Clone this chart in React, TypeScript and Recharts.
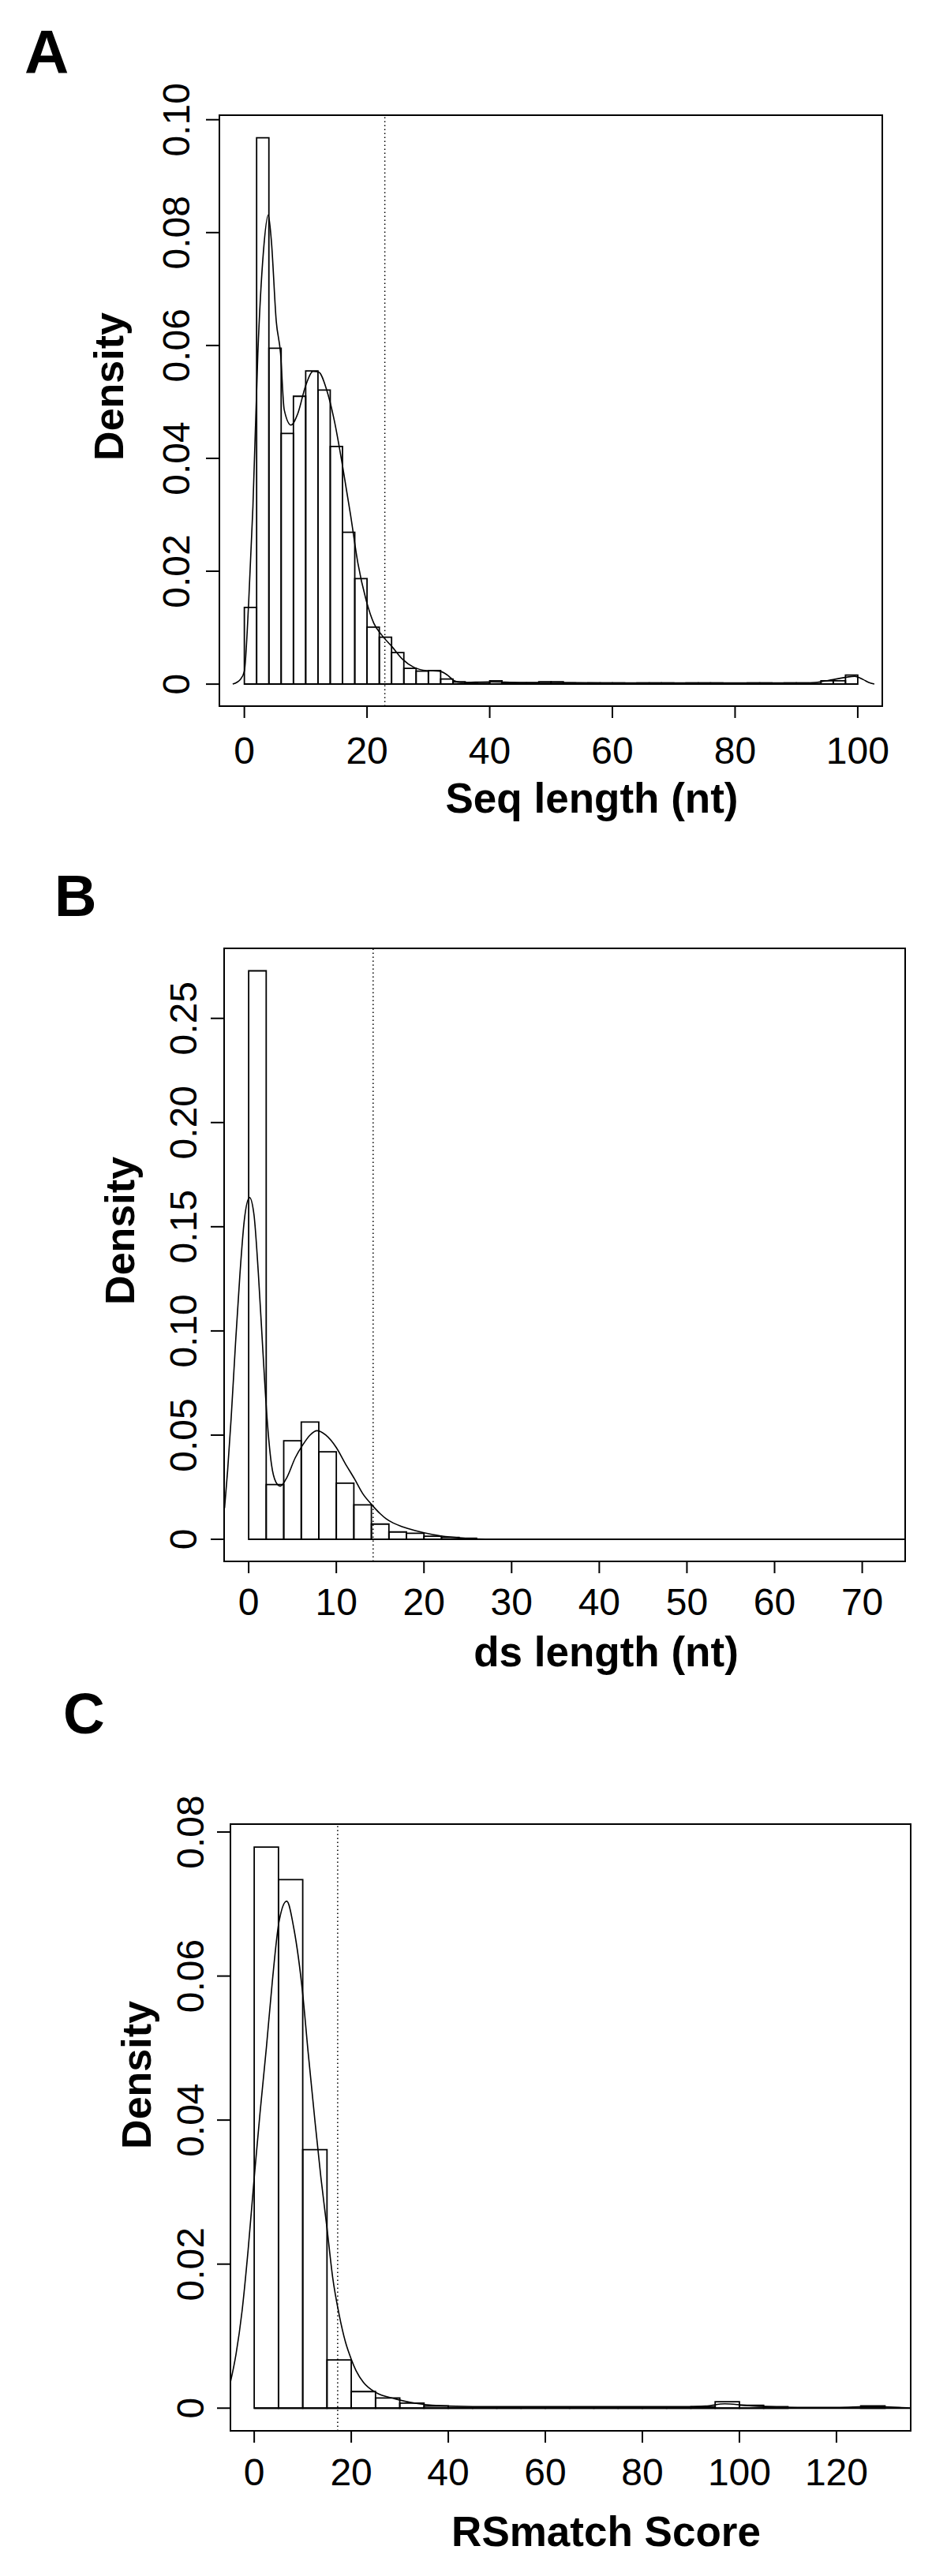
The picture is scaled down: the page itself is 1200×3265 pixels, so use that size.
import { ComposedChart, Line, XAxis, YAxis, ReferenceArea, ReferenceLine } from 'recharts'

const FONT = '"Liberation Sans", Arial, Helvetica, sans-serif'

// Panel A: sequence length histogram (bin width 2, 0..100)
const seqBinWidth = 2
const seqDensity = [
  0.0136, 0.0968, 0.0595, 0.0444, 0.0510, 0.0555, 0.0521, 0.0421, 0.0269, 0.0187,
  0.0101, 0.0083, 0.0056, 0.0028, 0.0023, 0.0024, 0.0009, 0.0004, 0.0002, 0.0003,
  0.0006, 0.0002, 0.0002, 0.0002, 0.0004, 0.0004, 0.0002, 0.0001, 0.0002, 0.0002,
  0.0002, 0.0001, 0.0002, 0.0002, 0.0002, 0.0001, 0.0002, 0.0002, 0.0002, 0.0001,
  0, 0.0002, 0.0002, 0, 0.0002, 0.0002, 0.0001, 0.0006, 0.0006, 0.0016,
]
const seqCurveX = [
  -1.9, -0.6, 0, 0.7, 1.4, 2.2, 3.1, 3.9, 4.4, 5.2, 5.9, 6.5, 7.6, 8.7, 10.0, 11.2, 12.1,
  13.4, 14.7, 16.0, 17.3, 18.5, 19.8, 21.1, 22.4, 24.1, 25.8, 27.6, 29.7, 31.8, 33.1, 34.2,
  35.3, 40, 45, 50, 60, 70, 80, 90, 93, 96, 99.5, 100.9, 101.8, 102.7,
]
const seqCurveY = [
  0, 0.0009, 0.0023, 0.0144, 0.0315, 0.0586, 0.0765, 0.0831, 0.0786, 0.0643, 0.0586, 0.0486,
  0.0459, 0.0479, 0.0529, 0.0554, 0.0553, 0.0522, 0.0465, 0.0387, 0.0301, 0.0215, 0.0151,
  0.0108, 0.0087, 0.0066, 0.0044, 0.0030, 0.0024, 0.0023, 0.0016, 0.0006, 0.0003, 0.0004,
  0.0003, 0.0003, 0.0002, 0.0002, 0.0002, 0.0002, 0.0003, 0.0008, 0.0014, 0.0008, 0.0003, 0,
]
const seqCutoff = 22.9
const seqXTicks = [0, 20, 40, 60, 80, 100]
const seqYTicks = [0, 0.02, 0.04, 0.06, 0.08, 0.1]

// Panel B: ds length histogram (bin width 2)
const dsBinWidth = 2
const dsDensity = [
  0.2728, 0.0263, 0.0473, 0.0563, 0.0420, 0.0269, 0.0165, 0.0073, 0.0035, 0.0029,
  0.0015, 0.0009, 0.0005,
]
const dsCurveX = [
  -2.75, -2.4, -2.0, -1.5, -1.0, -0.5, 0.1, 0.6, 1.1, 1.6, 2.1, 2.6, 3.1, 3.6, 4.4, 5.3,
  6.2, 7.0, 7.8, 8.8, 10.0, 11.0, 12.1, 13.0, 14.0, 15.0, 15.7, 16.5, 17.5, 19.0, 21.0,
  23.0, 25.0, 27.0, 30.0, 74.9,
]
const dsCurveY = [
  0.015, 0.033, 0.058, 0.094, 0.127, 0.153, 0.164, 0.156, 0.128, 0.092, 0.058, 0.036,
  0.0275, 0.0255, 0.030, 0.039, 0.0455, 0.050, 0.0521, 0.050, 0.044, 0.0365, 0.0288,
  0.022, 0.0168, 0.0123, 0.0098, 0.0078, 0.0061, 0.0042, 0.0023, 0.0011, 0.0004, 0.0001,
  0, 0,
]
const dsCutoff = 14.2
const dsXTicks = [0, 10, 20, 30, 40, 50, 60, 70]
const dsYTicks = [0, 0.05, 0.1, 0.15, 0.2, 0.25]

// Panel C: RSmatch score histogram (bin width 5)
const rsBinWidth = 5
const rsDensity = [
  0.0779, 0.0734, 0.0359, 0.0067, 0.0023, 0.0014, 0.0007, 0.0003, 0.0001, 0.0001,
  0.0001, 0.0001, 0.0001, 0.0001, 0.0001, 0.0001, 0.0001, 0.0001, 0.0002, 0.0009,
  0.0004, 0.0002, 0, 0, 0, 0.0003,
]
const rsCurveX = [
  -4.9, -3.75, -2.5, -1.25, 0, 1.2, 2.5, 3.7, 5.1, 6.7, 8.2, 10.0, 11.1, 12.5, 13.75,
  15.0, 16.2, 17.5, 18.8, 20, 21, 22.5, 25, 29, 34, 40, 50, 70, 88, 93, 97, 101, 106,
  112, 120, 127, 133, 135.3,
]
const rsCurveY = [
  0.0036, 0.0075, 0.0135, 0.022, 0.032, 0.041, 0.050, 0.059, 0.0675, 0.0704, 0.0665,
  0.0575, 0.0495, 0.040, 0.032, 0.025, 0.018, 0.013, 0.0092, 0.0068, 0.0052, 0.0036,
  0.0022, 0.0013, 0.0006, 0.0003, 0.0002, 0.0002, 0.0002, 0.0003, 0.0006, 0.0004,
  0.0002, 0.0001, 0.0001, 0.0002, 0.0001, 0,
]
const rsCutoff = 17.2
const rsXTicks = [0, 20, 40, 60, 80, 100, 120]
const rsYTicks = [0, 0.02, 0.04, 0.06, 0.08]

const fmtY = (v: number) => (v === 0 ? '0' : v.toFixed(2))

const YTick = ({ x, y, payload }: any) => (
  <text x={x} y={y} transform={`rotate(-90 ${x} ${y})`} textAnchor="middle" fontSize={48} fontFamily={FONT} fill="#000">
    {fmtY(payload.value)}
  </text>
)

const XTick = ({ x, y, payload }: any) => (
  <text x={x} y={y} textAnchor="middle" fontSize={48} fontFamily={FONT} fill="#000">
    {payload.value}
  </text>
)

interface PanelProps {
  top: number
  height: number
  margin: { top: number; right: number; bottom: number; left: number }
  xDomain: [number, number]
  yDomain: [number, number]
  xTicks: number[]
  yTicks: number[]
  binWidth: number
  density: number[]
  curveX: number[]
  curveY: number[]
  cutoff: number
  baselineEnd: number
  yTickMargin: number
  xTickMargin: number
}

function HistPanel(p: PanelProps) {
  const curve = p.curveX.map((x, i) => ({ x, y: p.curveY[i] }))
  const box = { stroke: '#000', strokeWidth: 2, fill: 'none' }
  return (
    <div style={{ position: 'absolute', left: 0, top: p.top }}>
      <ComposedChart width={1200} height={p.height} data={curve} margin={p.margin}>
        <XAxis
          type="number"
          dataKey="x"
          domain={p.xDomain}
          allowDataOverflow
          ticks={p.xTicks}
          interval={0}
          axisLine={false}
          tickLine={{ stroke: '#000', strokeWidth: 2 }}
          tickSize={15}
          tickMargin={p.xTickMargin}
          tick={<XTick />}
          height={150}
        />
        <YAxis
          type="number"
          domain={p.yDomain}
          allowDataOverflow
          ticks={p.yTicks}
          interval={0}
          axisLine={false}
          tickLine={{ stroke: '#000', strokeWidth: 2 }}
          tickSize={17}
          tickMargin={p.yTickMargin}
          tick={<YTick />}
          width={150}
        />
        {p.density.map((d, i) =>
          d > 0 ? (
            <ReferenceArea
              key={i}
              x1={i * p.binWidth}
              x2={(i + 1) * p.binWidth}
              y1={0}
              y2={d}
              {...box}
              strokeWidth={1.8}
              fillOpacity={1}
              ifOverflow="visible"
            />
          ) : null
        )}
        <ReferenceLine
          segment={[{ x: 0, y: 0 }, { x: p.baselineEnd, y: 0 }]}
          stroke="#000"
          strokeWidth={2}
          ifOverflow="visible"
        />
        <Line
          type="monotone"
          dataKey="y"
          stroke="#000"
          strokeWidth={1.6}
          dot={false}
          activeDot={false}
          isAnimationActive={false}
        />
        <ReferenceLine x={p.cutoff} stroke="#000" strokeWidth={1.5} strokeDasharray="1.5 3.5" />
        <ReferenceArea
          x1={p.xDomain[0]}
          x2={p.xDomain[1]}
          y1={p.yDomain[0]}
          y2={p.yDomain[1]}
          {...box}
          ifOverflow="visible"
        />
      </ComposedChart>
    </div>
  )
}

export default function App() {
  const bold = { fontFamily: FONT, fontWeight: 700, fill: '#000' }
  return (
    <div style={{ position: 'absolute', left: 0, top: 0, width: 1200, height: 3265, background: '#fff' }}>
      <HistPanel
        top={0}
        height={1100}
        margin={{ top: 146, right: 82, bottom: 55, left: 128 }}
        xDomain={[-4.07, 104]}
        yDomain={[-0.0039, 0.1008]}
        xTicks={seqXTicks}
        yTicks={seqYTicks}
        binWidth={seqBinWidth}
        density={seqDensity}
        curveX={seqCurveX}
        curveY={seqCurveY}
        cutoff={seqCutoff}
        baselineEnd={100}
        yTickMargin={21}
        xTickMargin={58}
      />
      <HistPanel
        top={1100}
        height={1100}
        margin={{ top: 102, right: 53, bottom: 71, left: 134 }}
        xDomain={[-2.8, 74.9]}
        yDomain={[-0.0106, 0.2836]}
        xTicks={dsXTicks}
        yTicks={dsYTicks}
        binWidth={dsBinWidth}
        density={dsDensity}
        curveX={dsCurveX}
        curveY={dsCurveY}
        cutoff={dsCutoff}
        baselineEnd={74.9}
        yTickMargin={18}
        xTickMargin={53}
      />
      <HistPanel
        top={2200}
        height={1065}
        margin={{ top: 112, right: 46, bottom: 34, left: 142 }}
        xDomain={[-4.9, 135.3]}
        yDomain={[-0.00315, 0.0811]}
        xTicks={rsXTicks}
        yTicks={rsYTicks}
        binWidth={rsBinWidth}
        density={rsDensity}
        curveX={rsCurveX}
        curveY={rsCurveY}
        cutoff={rsCutoff}
        baselineEnd={135.3}
        yTickMargin={17}
        xTickMargin={54}
      />
      <svg width={1200} height={3265} style={{ position: 'absolute', left: 0, top: 0, pointerEvents: 'none' }}>
        <text x={31} y={93} fontSize={78} {...bold}>A</text>
        <text x={69} y={1161} fontSize={74} {...bold}>B</text>
        <text x={80} y={2197} fontSize={73} {...bold}>C</text>
        <text x={156} y={490} transform="rotate(-90 156 490)" textAnchor="middle" fontSize={52} {...bold}>Density</text>
        <text x={169.5} y={1560} transform="rotate(-90 169.5 1560)" textAnchor="middle" fontSize={52} {...bold}>Density</text>
        <text x={191} y={2630} transform="rotate(-90 191 2630)" textAnchor="middle" fontSize={52} {...bold}>Density</text>
        <text x={750} y={1030} textAnchor="middle" fontSize={53} {...bold}>Seq length (nt)</text>
        <text x={768} y={2112} textAnchor="middle" fontSize={53} {...bold}>ds length (nt)</text>
        <text x={768} y={3227} textAnchor="middle" fontSize={53} {...bold}>RSmatch Score</text>
      </svg>
    </div>
  )
}
